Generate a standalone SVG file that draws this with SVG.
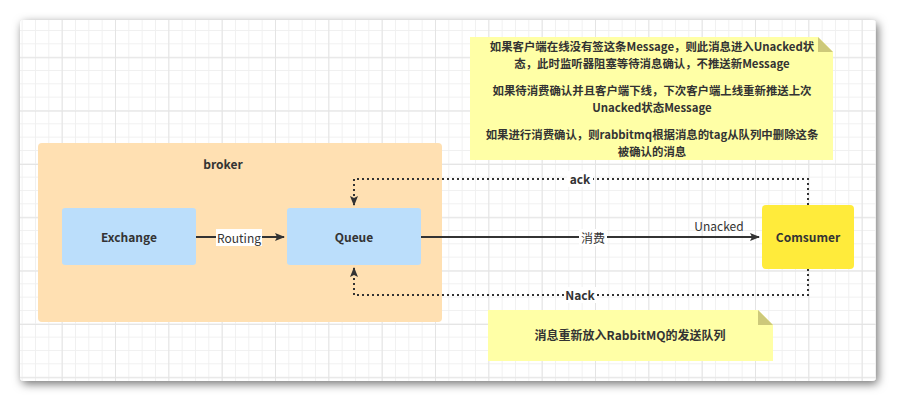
<svg xmlns="http://www.w3.org/2000/svg" width="897" height="401" viewBox="0 0 897 401">
<defs>
<filter id="sh" x="-10%" y="-10%" width="120%" height="130%">
<feDropShadow dx="2" dy="3" stdDeviation="5" flood-color="#000" flood-opacity="0.55"/>
</filter>
<pattern id="gmin" x="8.33" y="3.33" width="13.333" height="13.333" patternUnits="userSpaceOnUse">
<path d="M0 0.5H13.333M0.5 0V13.333" fill="none" stroke="#f0f0f0" stroke-width="1"/>
</pattern>
<pattern id="gmaj" x="8.33" y="3.97" width="53.333" height="53.333" patternUnits="userSpaceOnUse">
<path d="M0 0.5H53.333M0.5 0V53.333" fill="none" stroke="#e4e4e4" stroke-width="1"/>
</pattern>
<marker id="arr" markerWidth="10" markerHeight="8" refX="9" refY="4" orient="auto" markerUnits="userSpaceOnUse">
<path d="M0 0L10 4L0 8L2 4Z" fill="#333"/>
</marker>
<clipPath id="cv"><rect x="20" y="20" width="856" height="361" rx="4"/></clipPath>
</defs>
<style>
.t{font-family:"Noto Sans CJK SC","Noto Sans",sans-serif;fill:#333;font-size:12px;text-anchor:middle;dominant-baseline:central}
.b{font-weight:bold}
.n{font-size:11.4px}
.box{fill:#bbdefb}
.note{fill:#ffffa6}
.fold{fill:#cdc97a}
.solid{fill:none;stroke:#333;stroke-width:2}
.dot{fill:none;stroke:#333;stroke-width:2;stroke-dasharray:2 3}
</style>
<rect x="20" y="20" width="856" height="361" rx="4" fill="#fff" filter="url(#sh)"/>
<g clip-path="url(#cv)">
<rect x="20" y="20" width="856" height="361" fill="url(#gmin)"/>
<rect x="20" y="20" width="856" height="361" fill="url(#gmaj)"/>
</g>
<g id="broker">
<rect x="38" y="143" width="404" height="179" rx="4" fill="#ffe0b2"/>
<text class="t b" x="223" y="163">broker</text>
</g>
<g id="note-top">
<path class="note" d="M470 37H818L833 52V160H470Z"/>
<path class="fold" d="M818 37L833 52H818Z"/>
<text class="t b n" x="652" y="46">如果客户端在线没有签这条Message，则此消息进入Unacked状</text>
<text class="t b n" x="652" y="62.6">态，此时监听器阻塞等待消息确认，不推送新Message</text>
<text class="t b n" x="652" y="90.4">如果待消费确认并且客户端下线，下次客户端上线重新推送上次</text>
<text class="t b n" x="652" y="107">Unacked状态Message</text>
<text class="t b n" x="652" y="134.4">如果进行消费确认，则rabbitmq根据消息的tag从队列中删除这条</text>
<text class="t b n" x="652" y="151">被确认的消息</text>
</g>
<g id="note-bottom">
<path class="note" d="M488 310H758L773 325V361H488Z"/>
<path class="fold" d="M758 310L773 325H758Z"/>
<text class="t b" x="630" y="334">消息重新放入RabbitMQ的发送队列</text>
</g>
<g id="exchange">
<rect class="box" x="62" y="208" width="134" height="57" rx="3"/>
<text class="t b" x="129" y="236">Exchange</text>
</g>
<g id="queue">
<rect class="box" x="287" y="208" width="134" height="57" rx="3"/>
<text class="t b" x="354" y="236">Queue</text>
</g>
<g id="comsumer">
<rect x="762" y="205" width="92" height="64" rx="4" fill="#ffeb3b"/>
<text class="t b" x="808" y="236">Comsumer</text>
</g>
<g id="connectors">
<path class="solid" d="M196 237H284" marker-end="url(#arr)"/>
<rect x="216" y="229" width="46" height="17" fill="#fff"/>
<text class="t" x="239" y="237">Routing</text>
<path class="solid" d="M421 237H759" marker-end="url(#arr)"/>
<rect x="579" y="229" width="28" height="17" fill="#fff"/>
<text class="t" x="593" y="237">消费</text>
<text class="t" x="719" y="225">Unacked</text>
<path class="dot" d="M808 205V179H354V205" marker-end="url(#arr)"/>
<rect x="567" y="171" width="26" height="16" fill="#fff"/>
<text class="t b" x="580" y="178">ack</text>
<path class="dot" d="M808 269V295H354V268" marker-end="url(#arr)"/>
<rect x="564" y="287" width="33" height="16" fill="#fff"/>
<text class="t b" x="580" y="294">Nack</text>
</g>
</svg>
